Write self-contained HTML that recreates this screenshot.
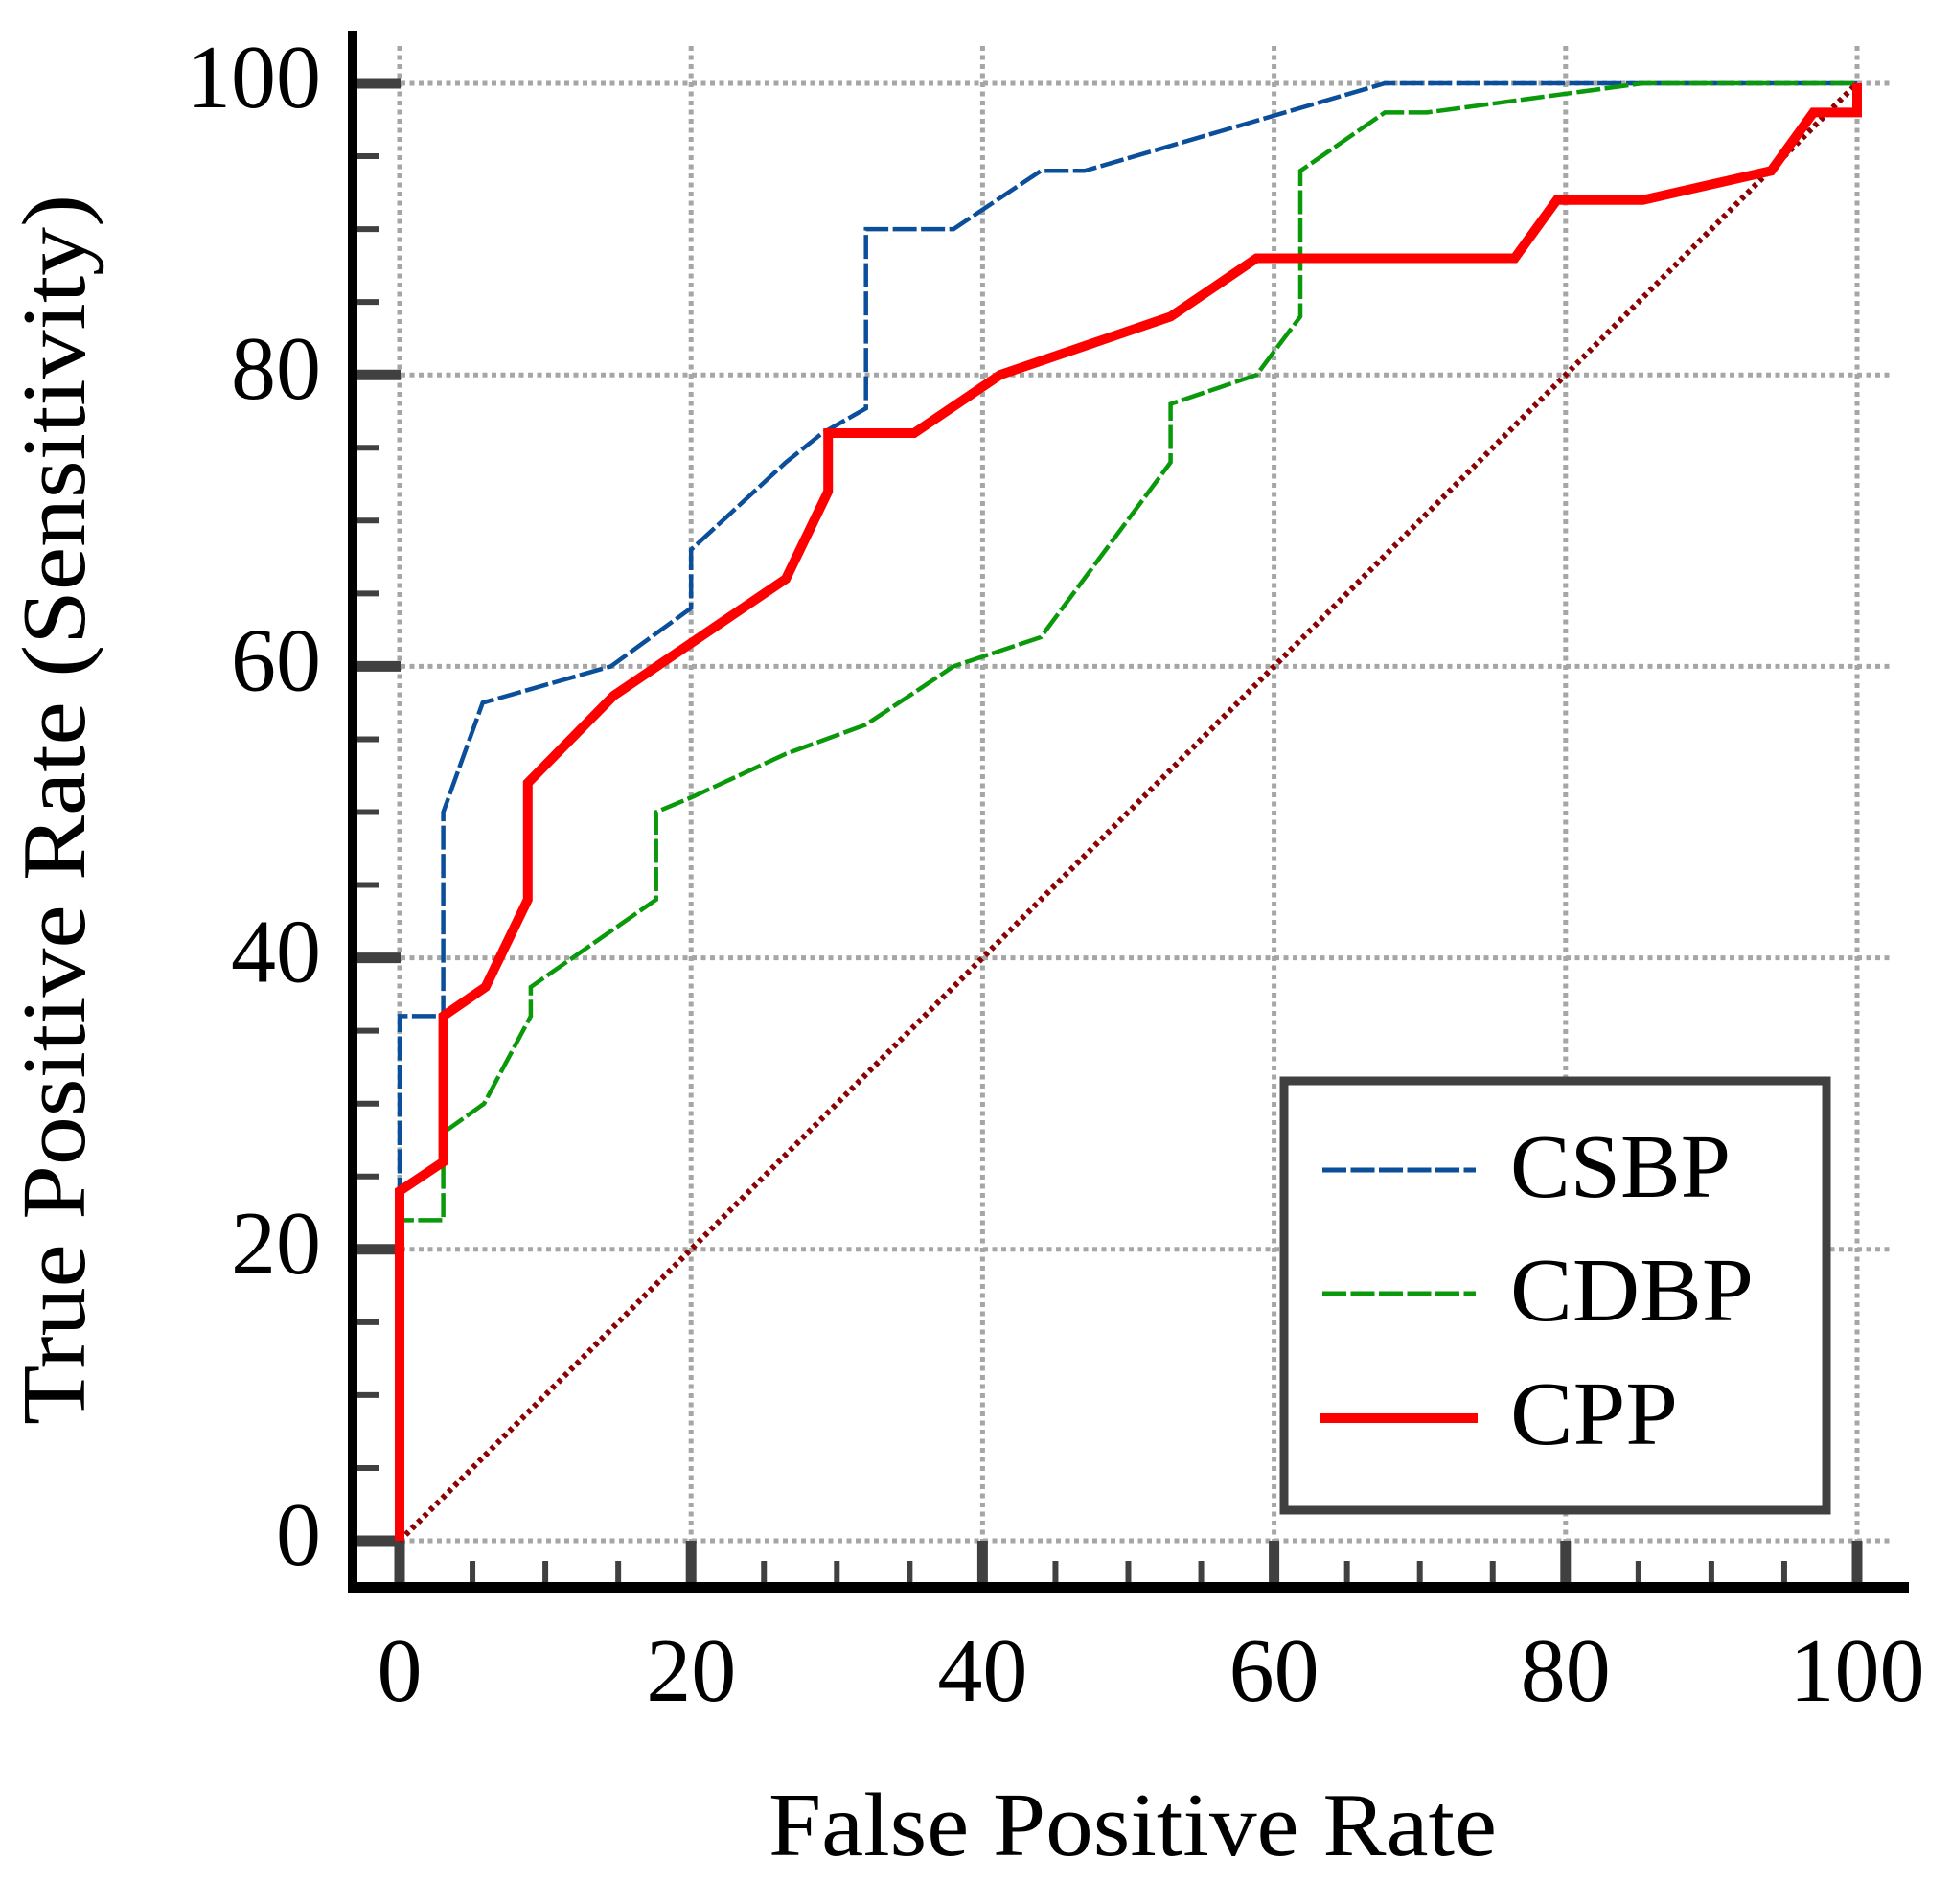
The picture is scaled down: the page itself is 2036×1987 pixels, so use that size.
<!DOCTYPE html>
<html><head><meta charset="utf-8"><style>
html,body{margin:0;padding:0;background:#fff;}
svg{display:block;}
text{font-family:"Liberation Serif",serif;fill:#000;}
</style></head><body>
<svg id="chart" xmlns="http://www.w3.org/2000/svg" width="2036" height="1987" viewBox="0 0 2036 1987">
<g id="grid"></g>
<g id="ticks"></g>
<g id="series"></g>
<rect x="363" y="32" width="10" height="1630" fill="#000"/>
<rect x="363" y="1651" width="1629" height="11" fill="#000"/>
<g id="labels"></g>
<text x="802" y="1936" font-size="94" textLength="760" lengthAdjust="spacingAndGlyphs">False Positive Rate</text>
<text transform="translate(88,1487) rotate(-90)" x="0" y="0" font-size="94" textLength="1284" lengthAdjust="spacingAndGlyphs">True Positive Rate (Sensitivity)</text>
<g>
<rect x="1340" y="1128" width="566" height="448" fill="#fff" stroke="#404040" stroke-width="9"/>
<line x1="1380" y1="1221" x2="1540" y2="1221" stroke="#0b4e9a" stroke-width="5" stroke-dasharray="25 4.5"/>
<text x="1576" y="1249" font-size="94" textLength="230" lengthAdjust="spacingAndGlyphs">CSBP</text>
<line x1="1380" y1="1350" x2="1540" y2="1350" stroke="#0a990a" stroke-width="5" stroke-dasharray="25 4.5"/>
<text x="1576" y="1378" font-size="94" textLength="254" lengthAdjust="spacingAndGlyphs">CDBP</text>
<line x1="1377" y1="1480" x2="1542" y2="1480" stroke="#ff0000" stroke-width="10"/>
<text x="1576" y="1507" font-size="94" textLength="175" lengthAdjust="spacingAndGlyphs">CPP</text>
</g>
</svg>
<script>
const tickValues = [0, 20, 40, 60, 80, 100];
const tickLabels = ["0", "20", "40", "60", "80", "100"];
const csbpX = [0, 0, 3, 3, 5.7, 14.5, 20, 20, 26.5, 29, 32, 32, 38, 44, 47, 67.6, 100];
const csbpY = [0, 36, 36, 50, 57.5, 60, 64, 68, 74, 76, 77.7, 90, 90, 94, 94, 100, 100];
const cdbpX = [0, 0, 3, 3, 5.8, 9, 9, 17.6, 17.6, 20, 26.5, 32, 38, 44, 52.9, 52.9, 58.8, 61.8, 61.8, 67.6, 70.5, 85.3, 100];
const cdbpY = [0, 22, 22, 28, 30, 36, 38, 44, 50, 51, 54, 56, 60, 62, 74, 78, 80, 84, 94, 98, 98, 100, 100];
const cppX = [0, 0, 3, 3, 5.9, 8.8, 8.8, 14.7, 26.5, 29.4, 29.4, 35.3, 41.2, 52.9, 58.8, 76.5, 79.4, 85.3, 94.1, 97, 100, 100];
const cppY = [0, 24, 26, 36, 38, 44, 52, 58, 66, 72, 76, 76, 80, 84, 88, 88, 92, 92, 94, 98, 98, 100];
const diagX = [0, 100];
const diagY = [0, 100];

const NS = "http://www.w3.org/2000/svg";
const X0 = 417, X1 = 1938, Y0 = 1608, Y1 = 87;
function sx(v){ return X0 + (X1 - X0) * v / 100; }
function sy(v){ return Y0 - (Y0 - Y1) * v / 100; }
function mk(tag, attrs, parent){
  const e = document.createElementNS(NS, tag);
  for (const k in attrs) e.setAttribute(k, attrs[k]);
  parent.appendChild(e);
  return e;
}
const grid = document.getElementById('grid');
const ticks = document.getElementById('ticks');
const series = document.getElementById('series');
const labels = document.getElementById('labels');

tickValues.forEach((v, i) => {
  const gv = mk('line', {x1: sx(v), y1: 48, x2: sx(v), y2: 1651, stroke: '#a6a6a6', 'stroke-width': 5, 'stroke-dasharray': '5 4.5'}, grid);
  
  
  const gh = mk('line', {x1: 418, y1: sy(v), x2: 1976, y2: sy(v), stroke: '#a6a6a6', 'stroke-width': 5, 'stroke-dasharray': '5 4.5'}, grid);
  
  
  const tx = mk('text', {x: sx(v), y: 1775, 'font-size': 94, 'text-anchor': 'middle'}, labels);
  tx.textContent = tickLabels[i];
  
  
  const ty = mk('text', {x: 335, y: sy(v) + 25, 'font-size': 94, 'text-anchor': 'end'}, labels);
  ty.textContent = tickLabels[i];
  
  
});
for (let v = 0; v <= 100; v += 5) {
  const major = v % 20 === 0;
  const tx = mk('line', {x1: sx(v), y1: 1651, x2: sx(v), y2: major ? 1608 : 1629, stroke: '#404040', 'stroke-width': major ? 11 : 6}, ticks);
  
  
  const ty = mk('line', {x1: 373, y1: sy(v), x2: major ? 418 : 396, y2: sy(v), stroke: '#404040', 'stroke-width': major ? 11 : 6}, ticks);
  
  
}
function pts(xs, ys){ return xs.map((x, i) => sx(x).toFixed(1) + ',' + sy(ys[i]).toFixed(1)).join(' '); }
const d = mk('polyline', {points: pts(diagX, diagY), fill: 'none', stroke: '#8b0000', 'stroke-width': 6, 'stroke-dasharray': '4.5 4.5'}, series);


const b = mk('polyline', {points: pts(csbpX, csbpY), fill: 'none', stroke: '#0b4e9a', 'stroke-width': 4.5, 'stroke-dasharray': '25 4.5'}, series);


const g = mk('polyline', {points: pts(cdbpX, cdbpY), fill: 'none', stroke: '#0a990a', 'stroke-width': 4.5, 'stroke-dasharray': '25 4.5'}, series);


const r = mk('polyline', {points: pts(cppX, cppY), fill: 'none', stroke: '#ff0000', 'stroke-width': 10, 'stroke-linejoin': 'miter'}, series);


</script>
</body></html>
